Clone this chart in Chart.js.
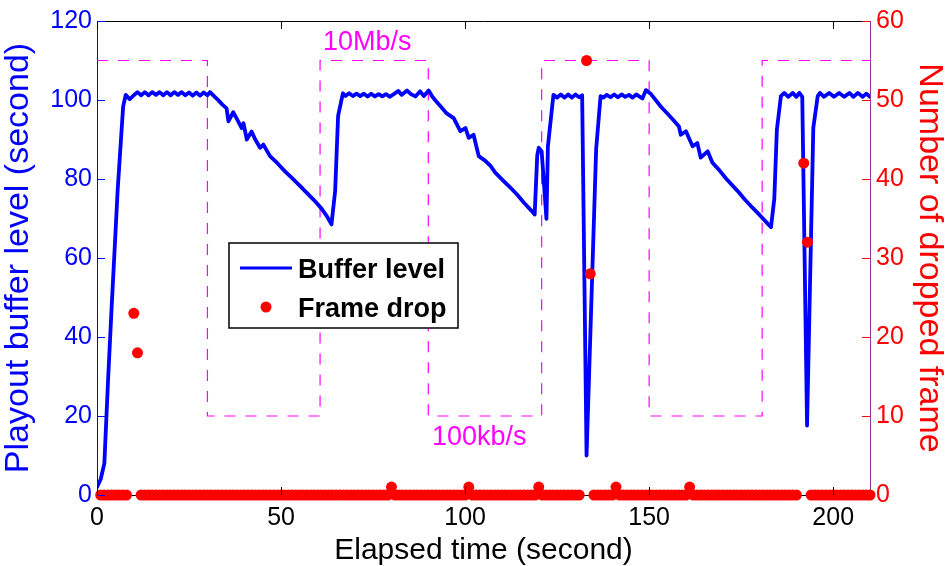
<!DOCTYPE html>
<html>
<head>
<meta charset="utf-8">
<script src="https://cdn.jsdelivr.net/npm/chart.js@4.4.1/dist/chart.umd.min.js"></script>
<style>
  body { margin: 0; background: #fff; }
  #wrap { width: 946px; height: 566px; position: relative; }
</style>
</head>
<body>
<div id="wrap"><canvas id="chart"></canvas></div>
<script>
// buffer level (seconds) against elapsed time (seconds)
const bufferTime = [
  0, 1, 2, 3, 4, 5, 5.6, 7.1, 7.8, 8.9,
  10, 11, 12, 13, 14, 15, 16, 17, 18, 19, 20, 21, 22, 23, 24, 25, 26, 27, 28, 29, 30, 30.7,
  32, 33, 34, 35.2, 35.7, 37, 38, 39.3, 39.8, 40.7, 42, 43, 44.3, 45.2, 47, 49, 51, 53, 55, 57, 59, 61, 62.5, 63.7,
  64.7, 65.5, 66.8,
  67.5, 68.5, 69.5, 70.5, 71.5, 72.5, 73.5, 74.5, 75.5, 76.5, 77.5, 78.5, 79.5, 80.5, 81.8, 82.8, 84.2, 85.3, 86.5, 87.8, 88.8, 90.1,
  91, 92, 93.5, 95, 96.9, 98.7, 100.1, 101, 102.3, 103.7, 105.5, 106.9, 108.2, 110, 112.3, 114, 116, 118, 118.9,
  119.6, 120, 120.8, 122.1, 122.5, 124,
  125, 126, 127, 128, 129, 130, 131, 131.8, 133, 135.6, 136.8,
  137.5, 138.5, 139.5, 140.5, 141.5, 142.5, 143.5, 144.5, 145.5, 146.5, 147.5, 148.2, 149.1,
  150.5, 153.2, 155, 156.5, 158.1, 158.6, 160, 161.8, 163.1, 164, 165.9, 167.2, 169, 171, 174, 176, 178, 180, 182, 183.1,
  184, 184.7, 185.8, 186.7, 187.8, 189, 190, 190.8, 191.6, 192.9, 194.6, 195.8,
  196.4, 197.5, 198.9, 200.2, 201.6, 203, 204.4, 205.5, 206.7, 208, 209, 210
]
const bufferLevel = [
  2, 4, 8, 29, 48, 66, 77, 98.3, 101.3, 100.2,
  101.2, 102.0, 101.2, 102.0, 101.2, 102.0, 101.3, 102.0, 101.2, 102.0, 101.2, 102.0, 101.3, 102.0, 101.2, 101.9, 101.1, 101.9, 101.1, 101.9, 101.2, 102.0,
  100.8, 99.9, 98.9, 97.9, 94.6, 96.9, 95.2, 92.9, 94.1, 90.0, 92.0, 90.0, 87.9, 88.7, 85.8, 84.0, 82.0, 80.2, 78.4, 76.5, 74.6, 72.5, 70.5, 68.5,
  77, 96, 101.7,
  101.0, 101.7, 101.0, 101.6, 101.0, 101.6, 100.9, 101.6, 100.9, 101.5, 100.9, 101.5, 100.8, 101.4, 102.3, 101.3, 102.4, 101.5, 100.9, 102.2, 101.0, 102.4,
  101.0, 99.8, 98.2, 96.6, 95.4, 92.1, 92.9, 90.4, 91.2, 85.8, 84.6, 83.3, 81.6, 79.9, 77.8, 76.2, 74.0, 72.0, 71.0,
  86, 87.9, 87.0, 69.9, 88.3, 101.3,
  100.6, 101.4, 100.6, 101.4, 100.6, 101.4, 100.7, 101.2, 10.0, 87.5, 101.0,
  100.6, 101.3, 100.7, 101.4, 100.7, 101.4, 100.8, 101.3, 100.6, 101.4, 100.8, 100.4, 102.5,
  101.5, 98.3, 96.5, 95.0, 93.3, 91.2, 92.1, 88.3, 89.1, 85.4, 87.0, 84.1, 82.3, 80.0, 77.0, 74.8, 72.8, 70.9, 68.9, 67.8,
  75, 92.5, 101.0, 101.8, 100.8, 101.8, 100.8, 101.8, 100.8, 17.6, 93, 101.0,
  101.8, 100.8, 101.8, 100.8, 101.8, 100.8, 101.8, 100.8, 101.8, 100.8, 101.6, 100.8
]

// dropped frames, one sample per second from t = 0 (null = no sample)
const dropCount = [
  null, 0, 0, 0, 0, 0, 0, 0, 0, null,
  23, 18, 0, 0, 0, 0, 0, 0, 0, 0,
  0, 0, 0, 0, 0, 0, 0, 0, 0, 0,
  0, 0, 0, 0, 0, 0, 0, 0, 0, 0,
  0, 0, 0, 0, 0, 0, 0, 0, 0, 0,
  0, 0, 0, 0, 0, 0, 0, 0, 0, 0,
  0, 0, 0, 0, 0, 0, 0, 0, 0, 0,
  0, 0, 0, 0, 0, 0, 0, 0, 0, 0,
  1, 0, 0, 0, 0, 0, 0, 0, 0, 0,
  0, 0, 0, 0, 0, 0, 0, 0, 0, 0,
  0, 1, 0, 0, 0, 0, 0, 0, 0, 0,
  0, 0, 0, 0, 0, 0, 0, 0, 0, 0,
  1, 0, 0, 0, 0, 0, 0, 0, 0, 0,
  0, 0, null, 55, 28, 0, 0, 0, 0, 0,
  0, 1, 0, 0, 0, 0, 0, 0, 0, 0,
  0, 0, 0, 0, 0, 0, 0, 0, 0, 0,
  0, 1, 0, 0, 0, 0, 0, 0, 0, 0,
  0, 0, 0, 0, 0, 0, 0, 0, 0, 0,
  0, 0, 0, 0, 0, 0, 0, 0, 0, 0,
  0, null, 42, 32, 0, 0, 0, 0, 0, 0,
  0, 0, 0, 0, 0, 0, 0, 0, 0, 0,
  0
]

// bandwidth schedule: switch times and the level it is drawn at (10Mb/s high, 100kb/s low)
const bwTime = [0, 30, 60.6, 90, 120.8, 150, 180.7, 210]
const bwLevel = [110, 20, 110, 20, 110, 20, 110, 110]

const xTicks = [0, 50, 100, 150, 200]
const bufferTicks = [0, 20, 40, 60, 80, 100, 120]
const dropTicks = [0, 10, 20, 30, 40, 50, 60]

const FONT = "'Liberation Sans', Arial, Helvetica, sans-serif"
const BLUE = '#0000ff'
const RED = '#ff0000'
const MAGENTA = '#ff00ff'

const pairs = (xs, ys) => xs.map((x, i) => ({x: x, y: ys[i]}))

// inward tick marks, top edge, text labels and the legend box
const frame = {
  id: 'frame',
  afterDatasetsDraw (chart) {
    const {ctx, chartArea: a, scales} = chart
    ctx.save()
    ctx.lineWidth = 1
    ctx.strokeStyle = '#000'
    ctx.beginPath()
    ctx.moveTo(a.left, a.top + 0.5)
    ctx.lineTo(a.right, a.top + 0.5)
    ctx.stroke()
    xTicks.forEach(v => {
      const px = Math.round(scales.x.getPixelForValue(v)) + 0.5
      ctx.beginPath()
      ctx.moveTo(px, a.bottom); ctx.lineTo(px, a.bottom - 8)
      ctx.moveTo(px, a.top); ctx.lineTo(px, a.top + 8)
      ctx.stroke()
    })
    ctx.strokeStyle = BLUE
    bufferTicks.forEach(v => {
      const py = Math.round(scales.y.getPixelForValue(v)) + 0.5
      ctx.beginPath()
      ctx.moveTo(a.left, py); ctx.lineTo(a.left + 8, py)
      ctx.stroke()
    })
    ctx.strokeStyle = RED
    dropTicks.forEach(v => {
      const py = Math.round(scales.y1.getPixelForValue(v)) + 0.5
      ctx.beginPath()
      ctx.moveTo(a.right, py); ctx.lineTo(a.right - 8, py)
      ctx.stroke()
    })

    // bandwidth labels
    ctx.fillStyle = MAGENTA
    ctx.font = '27px ' + FONT
    ctx.textBaseline = 'middle'
    ctx.textAlign = 'left'
    ctx.fillText('10Mb/s', scales.x.getPixelForValue(61.4), scales.y.getPixelForValue(114.5))
    ctx.fillText('100kb/s', scales.x.getPixelForValue(91), scales.y.getPixelForValue(14.6))

    // legend
    const lx = 229, ly = 243, lw = 229, lh = 85
    ctx.fillStyle = '#fff'
    ctx.fillRect(lx, ly, lw, lh)
    ctx.strokeStyle = '#000'
    ctx.lineWidth = 1.5
    ctx.strokeRect(lx, ly, lw, lh)
    ctx.strokeStyle = BLUE
    ctx.lineWidth = 3
    ctx.beginPath()
    ctx.moveTo(240, 268); ctx.lineTo(292, 268)
    ctx.stroke()
    ctx.fillStyle = RED
    ctx.beginPath()
    ctx.arc(266, 307, 5.5, 0, Math.PI * 2)
    ctx.fill()
    ctx.fillStyle = '#000'
    ctx.font = 'bold 27px ' + FONT
    ctx.textBaseline = 'alphabetic'
    ctx.fillText('Buffer level', 298, 278)
    ctx.fillText('Frame drop', 298, 317)
    ctx.restore()
  }
}

new Chart(document.getElementById('chart').getContext('2d'), {
  type: 'line',
  data: {
    datasets: [
      {
        label: 'Frame drop',
        data: pairs(dropCount.map((v, i) => i), dropCount),
        yAxisID: 'y1',
        showLine: false,
        pointRadius: 5.5,
        pointBackgroundColor: RED,
        pointBorderWidth: 0,
        clip: false
      },
      {
        label: 'Buffer level',
        data: pairs(bufferTime, bufferLevel),
        yAxisID: 'y',
        borderColor: BLUE,
        borderWidth: 3.8,
        pointRadius: 0,
        tension: 0,
        borderJoinStyle: 'round',
        borderCapStyle: 'round'
      },
      {
        label: 'Bandwidth',
        data: pairs(bwTime, bwLevel),
        yAxisID: 'y',
        borderColor: MAGENTA,
        borderWidth: 1.2,
        borderDash: [11, 10],
        stepped: true,
        pointRadius: 0
      }
    ]
  },
  options: {
    responsive: true,
    maintainAspectRatio: false,
    animation: false,
    layout: {padding: {top: 17, left: 0, right: 0, bottom: 0}},
    scales: {
      x: {
        type: 'linear',
        min: 0,
        max: 210,
        afterFit: s => { s.height = 71 },
        grid: {display: false, drawTicks: false},
        border: {display: true, color: '#000', width: 1},
        ticks: {
          stepSize: 50,
          includeBounds: false,
          color: '#000',
          padding: 8,
          maxRotation: 0,
          font: {family: FONT, size: 25}
        },
        title: {
          display: true,
          text: 'Elapsed time (second)',
          color: '#000',
          padding: {top: 0, bottom: 0},
          font: {family: FONT, size: 30, lineHeight: 1}
        }
      },
      y: {
        position: 'left',
        min: 0,
        max: 120,
        afterFit: s => { s.width = 97 },
        grid: {display: false, drawTicks: false},
        border: {display: true, color: BLUE, width: 1},
        ticks: {
          stepSize: 20,
          color: BLUE,
          padding: 5,
          font: {family: FONT, size: 25}
        },
        title: {
          display: true,
          text: 'Playout buffer level (second)',
          color: BLUE,
          padding: {top: 2, bottom: 0},
          font: {family: FONT, size: 34, lineHeight: 1}
        }
      },
      y1: {
        position: 'right',
        min: 0,
        max: 60,
        afterFit: s => { s.width = 76 },
        grid: {display: false, drawTicks: false},
        border: {display: true, color: '#993399', width: 1},
        ticks: {
          stepSize: 10,
          color: RED,
          padding: 6,
          font: {family: FONT, size: 25}
        },
        title: {
          display: true,
          text: 'Number of dropped frame',
          color: RED,
          padding: {top: 0, bottom: 0},
          font: {family: FONT, size: 34, lineHeight: 1}
        }
      }
    },
    plugins: {
      legend: {display: false},
      tooltip: {enabled: false}
    }
  },
  plugins: [frame]
})
</script>
</body>
</html>
